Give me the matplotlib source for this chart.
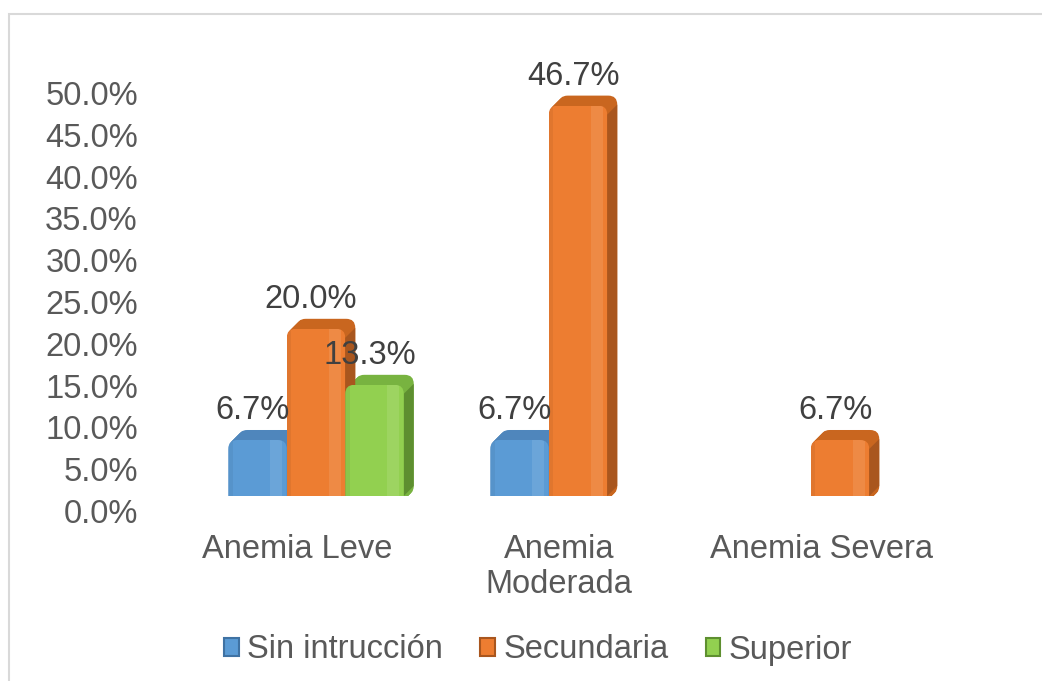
import numpy as np
import matplotlib
matplotlib.use('Agg')
import matplotlib.pyplot as plt
from matplotlib.patches import Polygon, Rectangle, Patch, FancyBboxPatch
from matplotlib.transforms import ScaledTranslation

# ---------------- data ----------------
categories = ['Anemia Leve', 'Anemia\nModerada', 'Anemia Severa']
series_names = ['Sin intrucción', 'Secundaria', 'Superior']
sin_instruccion = [6.7, 6.7, np.nan]
secundaria = [20.0, 46.7, 6.7]
superior = [13.3, np.nan, np.nan]
yticks = [0, 5, 10, 15, 20, 25, 30, 35, 40, 45, 50]

series_values = [sin_instruccion, secundaria, superior]
front_colors = ['#5B9BD5', '#ED7D31', '#92D050']
side_colors = ['#3F72A3', '#A9561E', '#5E8F30']
top_colors = ['#4F86BC', '#C9661F', '#78B340']
text_color = '#404040'
tick_color = '#595959'
FS = 23.5

W, H = 1042, 681
plt.rcParams['font.family'] = ['Liberation Sans', 'DejaVu Sans']
fig = plt.figure(figsize=(W / 100, H / 100), dpi=100)
fig.patch.set_facecolor('white')

ax_left, ax_bottom_px, ax_w_px, ax_top_px = 185, 496, 786, 61.3
ax = fig.add_axes([ax_left / W, (H - ax_bottom_px) / H, ax_w_px / W,
                   (ax_bottom_px - ax_top_px) / H])
ax.set_xlim(-0.5, 2.5)
ax.set_ylim(0, 52)
for s in ax.spines.values():
    s.set_visible(False)
ax.set_facecolor('none')

px_x = 3.0 / ax_w_px                       # data x units per pixel
px_y = 52.0 / (ax_bottom_px - ax_top_px)   # data y units per pixel
depth = 10
r_px = 9
aspect = px_y / px_x
bw = 58.5 / (ax_w_px / 3.0)
x = np.arange(len(categories))


def rounded(x0, y0, w, h, **kw):
    return FancyBboxPatch((x0, y0), w, h,
                          boxstyle=f'round,pad=0,rounding_size={r_px * px_x}',
                          mutation_aspect=aspect, **kw)


for i, vals in enumerate(series_values):
    xpos = x + (i - 1) * bw
    bars = ax.bar(xpos, vals, width=bw, color=front_colors[i], zorder=3,
                  linewidth=0)
    for rect in bars:
        h = rect.get_height()
        if not np.isfinite(h):
            continue
        x0 = rect.get_x()
        w = rect.get_width()
        x1 = x0 + w
        y_lo = -r_px * px_y
        # extrusion (top face colour)
        for k in range(depth, 0, -1):
            off = ScaledTranslation(k / 100, k / 100, fig.dpi_scale_trans)
            ax.add_patch(rounded(x0, y_lo, w, h - y_lo,
                                 facecolor=top_colors[i], edgecolor='none',
                                 zorder=1, transform=ax.transData + off))
        # side face
        ax.add_patch(Polygon([(x1, 0), (x1 + depth * px_x, depth * px_y),
                              (x1 + depth * px_x, h + depth * px_y - r_px * px_y),
                              (x1, h - r_px * px_y)],
                             closed=True, facecolor=side_colors[i],
                             edgecolor='none', zorder=2))
        # front face: the bar itself, clipped to a rounded shape
        clip = rounded(x0, y_lo, w, h - y_lo, transform=ax.transData)
        rect.set_clip_path(clip)
        # soft highlight band on the front face
        hl = Rectangle((x0 + w * 0.72, 0), w * 0.2, h, facecolor='white',
                       alpha=0.10, linewidth=0, zorder=4)
        ax.add_patch(hl)
        hl.set_clip_path(clip)
        shade = Rectangle((x0, 0), w * 0.08, h, facecolor='black',
                          alpha=0.05, linewidth=0, zorder=4)
        ax.add_patch(shade)
        shade.set_clip_path(clip)
        ax.annotate(f'{h:.1f}%', xy=(x0 + w / 2, h),
                    xytext=(-3.6, 20.9), textcoords='offset points',
                    ha='center', va='center', fontsize=FS, color=text_color,
                    zorder=6)

# y axis ticks
ax.set_yticks(yticks)
ax.set_yticklabels([f'{v:.1f}%' for v in yticks])
ax.tick_params(axis='y', length=0, pad=34, labelsize=FS, labelcolor=tick_color)
for lbl in ax.get_yticklabels():
    lbl.set_transform(lbl.get_transform() +
                      ScaledTranslation(0, -0.15, fig.dpi_scale_trans))

# x axis ticks
ax.set_xticks(x)
ax.set_xticklabels(categories, linespacing=1.2)
ax.tick_params(axis='x', length=0, pad=27, labelsize=FS, labelcolor=tick_color)
for lbl in ax.get_xticklabels():
    lbl.set_transform(lbl.get_transform() +
                      ScaledTranslation(-0.19, 0, fig.dpi_scale_trans))

# legend
handles = [Patch(facecolor=front_colors[i], edgecolor=side_colors[i],
                 linewidth=1.5) for i in range(3)]
fig.legend(handles, series_names, loc='center',
           bbox_to_anchor=(538 / W, 1 - 650 / H), ncol=3, frameon=False,
           fontsize=FS, labelcolor=tick_color, handlelength=0.45,
           handleheight=0.45, handletextpad=0.25, columnspacing=1.15)

# chart area border
fig.patches.append(Rectangle((8.5 / W, -0.2), 2, (H - 13.5) / H + 0.2,
                             transform=fig.transFigure, fill=False,
                             edgecolor='#D9D9D9', linewidth=1.5))

fig.savefig('out.png', dpi=100, facecolor='white')
